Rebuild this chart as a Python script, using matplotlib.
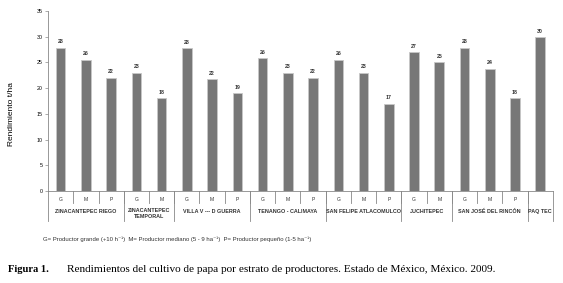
import matplotlib
matplotlib.use("Agg")
import matplotlib.pyplot as plt
import matplotlib.transforms as mtransforms

# datos
estratos = ["G", "M", "P", "G", "M", "G", "M", "P", "G", "M", "P",
            "G", "M", "P", "G", "M", "G", "M", "P", ""]
rendimiento = [27.9, 25.5, 22, 23, 18, 27.8, 21.7, 19, 25.8, 23, 22,
               25.5, 23, 17, 27, 25, 27.9, 23.8, 18, 29.9]
etiquetas = ["28", "26", "22", "23", "18", "28", "22", "19", "26", "23", "22",
             "26", "23", "17", "27", "25", "28", "24", "18", "30"]
grupos = ["ZINACANTEPEC RIEGO", "ZINACANTEPEC\nTEMPORAL", "VILLA V --- D GUERRA",
          "TENANGO - CALIMAYA", "SAN FELIPE ATLACOMULCO", "JUCHITEPEC",
          "SAN JOSÉ DEL RINCÓN", "PAQ TEC"]
tam_grupos = [3, 2, 3, 3, 3, 2, 3, 1]

plt.rcParams['font.family'] = ['Liberation Sans', 'DejaVu Sans']
fig = plt.figure(figsize=(5.63, 2.83), dpi=100)
ax = fig.add_axes([0.0853, 0.325, 0.8967, 0.636])

x = list(range(len(rendimiento)))
ax.bar(x, rendimiento, width=0.38, color="#777777", edgecolor="#c8c8c8", linewidth=0.6)
for xi, v, t in zip(x, rendimiento, etiquetas):
    ax.annotate(t, (xi, v), xytext=(0, 2.5), textcoords="offset points",
                ha="center", va="bottom", fontsize=3.8, fontweight="bold", color="#333333")

ax.set_xlim(-0.5, 19.5)
ax.set_ylim(0, 35)
ax.set_yticks(range(0, 36, 5))
ax.tick_params(axis="y", labelsize=3.8, length=2, width=0.5, color="#888888", pad=2)
ax.set_xticks([])
for s in ["top", "right", "bottom"]:
    ax.spines[s].set_visible(False)
ax.spines["left"].set_color("#888888")
ax.spines["left"].set_linewidth(0.6)
ax.set_ylabel("Rendimiento t/ha", fontsize=6)
ax.yaxis.set_label_coords(-0.065, 0.43)

# tabla de estratos y grupos
tr = mtransforms.blended_transform_factory(ax.transData, ax.transAxes)
lc = "#888888"
ax.plot([-0.5, 19.5], [0, 0], transform=tr, color=lc, lw=0.6, clip_on=False)
for xi, e in zip(x, estratos):
    ax.text(xi, -0.045, e, transform=tr, ha="center", va="center", fontsize=3.6, color="#333333")
for i in range(len(x) - 1):
    ax.plot([i + 0.5, i + 0.5], [0, -0.067], transform=tr, color=lc, lw=0.6, clip_on=False)
inicio = -0.5
ax.plot([inicio, inicio], [0, -0.167], transform=tr, color=lc, lw=0.6, clip_on=False)
for g, n in zip(grupos, tam_grupos):
    fin = inicio + n
    ax.plot([fin, fin], [0, -0.167], transform=tr, color=lc, lw=0.6, clip_on=False)
    yy = -0.115 if "\n" not in g else -0.125
    ax.text((inicio + fin) / 2, yy, g, transform=tr, ha="center", va="center",
            fontsize=3.9, fontweight="bold", color="#333333", linespacing=1.1)
    inicio = fin

fig.text(0.077, 0.155, "G= Productor grande (+10 h⁻¹)  M= Productor mediano (5 - 9 ha⁻¹)  "
         "P= Productor pequeño (1-5 ha⁻¹)", fontsize=4.3, color="#333333", va="center",
         family=['Liberation Sans', 'DejaVu Sans'])
fig.text(0.014, 0.048, "Figura 1.", fontsize=7.6, fontweight="bold",
         family="Liberation Serif", va="center")
fig.text(0.119, 0.048, "Rendimientos del cultivo de papa por estrato de productores. "
         "Estado de México, México. 2009.", fontsize=8.1, family="Liberation Serif", va="center")

fig.savefig("out.png", dpi=100)
